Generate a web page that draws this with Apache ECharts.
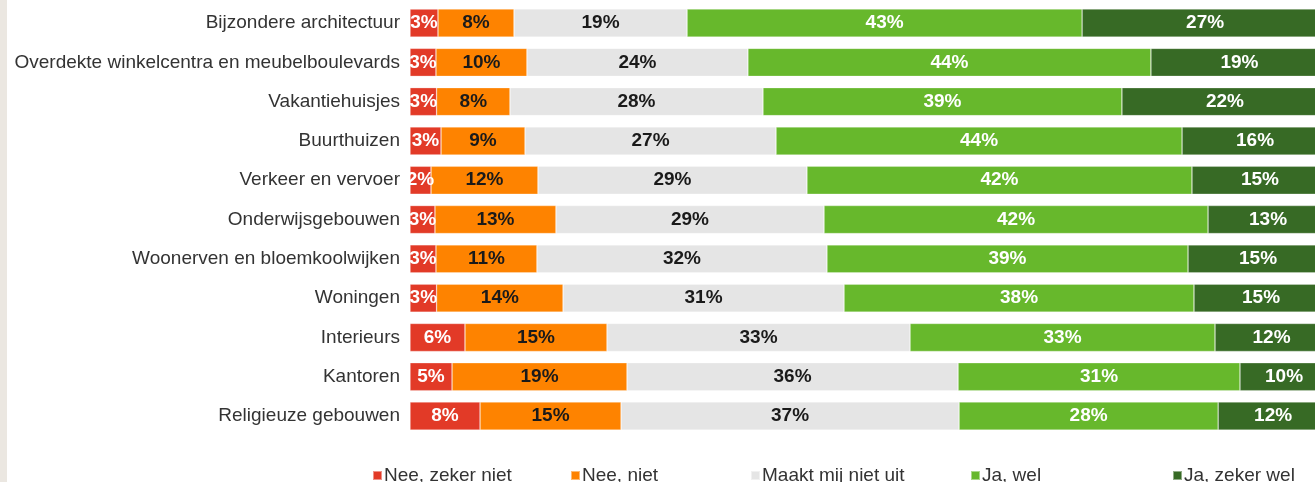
<!DOCTYPE html>
<html>
<head>
<meta charset="utf-8">
<script src="https://cdn.jsdelivr.net/npm/echarts@6/dist/echarts.min.js"></script>
<style>
    html, body { margin: 0; padding: 0; background: #fff; overflow: hidden; }
    #chartBox { width: 1315px; height: 482px; }
</style>
</head>
<body>
<div id="chartBox"></div>
<script>
// categorieen, van boven naar beneden
var categories = [
    'Bijzondere architectuur',
    'Overdekte winkelcentra en meubelboulevards',
    'Vakantiehuisjes',
    'Buurthuizen',
    'Verkeer en vervoer',
    'Onderwijsgebouwen',
    'Woonerven en bloemkoolwijken',
    'Woningen',
    'Interieurs',
    'Kantoren',
    'Religieuze gebouwen'
];
var seriesNames = ['Nee, zeker niet', 'Nee, niet', 'Maakt mij niet uit', 'Ja, wel', 'Ja, zeker wel'];

// percentages per antwoord
var neeZekerNiet = [3.05, 2.83, 2.9, 3.38, 2.29, 2.72, 2.83, 2.9, 5.99, 4.58, 7.63];
var neeNiet = [8.28, 9.91, 7.99, 9.15, 11.65, 13.18, 11.0, 13.77, 15.47, 19.06, 15.36];
var maaktNietUit = [18.85, 24.07, 27.56, 27.34, 29.3, 29.2, 31.59, 30.61, 33.01, 36.06, 36.82];
var jaWel = [43.03, 43.9, 39.1, 44.23, 41.94, 41.83, 39.33, 38.12, 33.22, 30.71, 28.22];
var jaZekerWel = [26.8, 19.28, 22.44, 15.9, 14.81, 13.07, 15.25, 14.6, 12.31, 9.59, 11.98];

var seriesData = [neeZekerNiet, neeNiet, maaktNietUit, jaWel, jaZekerWel];
var colors = ['#e23a27', '#fe8300', '#e5e5e5', '#67b82c', '#376a25'];
var labelColors = ['#ffffff', '#1a1a1a', '#1a1a1a', '#ffffff', '#ffffff'];
var legendLeft = [367, 565, 745, 965, 1167];
var fontName = 'Liberation Sans, Arial, sans-serif';

var chart = echarts.init(document.getElementById('chartBox'));

var series = [];
var legends = [];
for (var i = 0; i < seriesNames.length; i++) {
    series.push({
        name: seriesNames[i],
        type: 'bar',
        stack: 'totaal',
        barWidth: 28,
        clip: false, // laatste balk loopt buiten beeld door
        data: seriesData[i],
        itemStyle: {
            color: colors[i],
            borderColor: 'rgba(255,255,255,0.45)',
            borderWidth: 0.6
        },
        label: {
            show: true,
            position: 'inside',
            color: labelColors[i],
            fontFamily: fontName,
            fontWeight: 'bold',
            fontSize: 19,
            formatter: function (p) {
                return Math.round(p.value) + '%';
            }
        }
    });
    legends.push({
        data: [seriesNames[i]],
        left: legendLeft[i],
        top: 461,
        itemWidth: 9,
        itemHeight: 9,
        itemGap: 0,
        icon: 'rect',
        textStyle: {
            color: '#333333',
            fontFamily: fontName,
            fontSize: 19,
            padding: [0, 0, 0, -3]
        }
    });
}

var option = {
    animation: false,
    color: colors,
    graphic: [
        {
            type: 'rect',
            shape: { x: 0, y: 0, width: 7, height: 482 },
            style: { fill: '#ebe7e1' },
            silent: true
        }
    ],
    legend: legends,
    grid: {
        left: 410,
        right: 0,
        top: 3.4,
        height: 432.3
    },
    xAxis: {
        type: 'value',
        min: 0,
        // 100% valt net buiten het venster (rechts afgesneden)
        max: 98.58,
        show: false
    },
    yAxis: {
        type: 'category',
        inverse: true,
        data: categories,
        axisLine: { show: false },
        axisTick: { show: false },
        axisLabel: {
            margin: 10,
            color: '#333333',
            fontFamily: fontName,
            fontSize: 19
        }
    },
    series: series
};
chart.setOption(option);
</script>
</body>
</html>
